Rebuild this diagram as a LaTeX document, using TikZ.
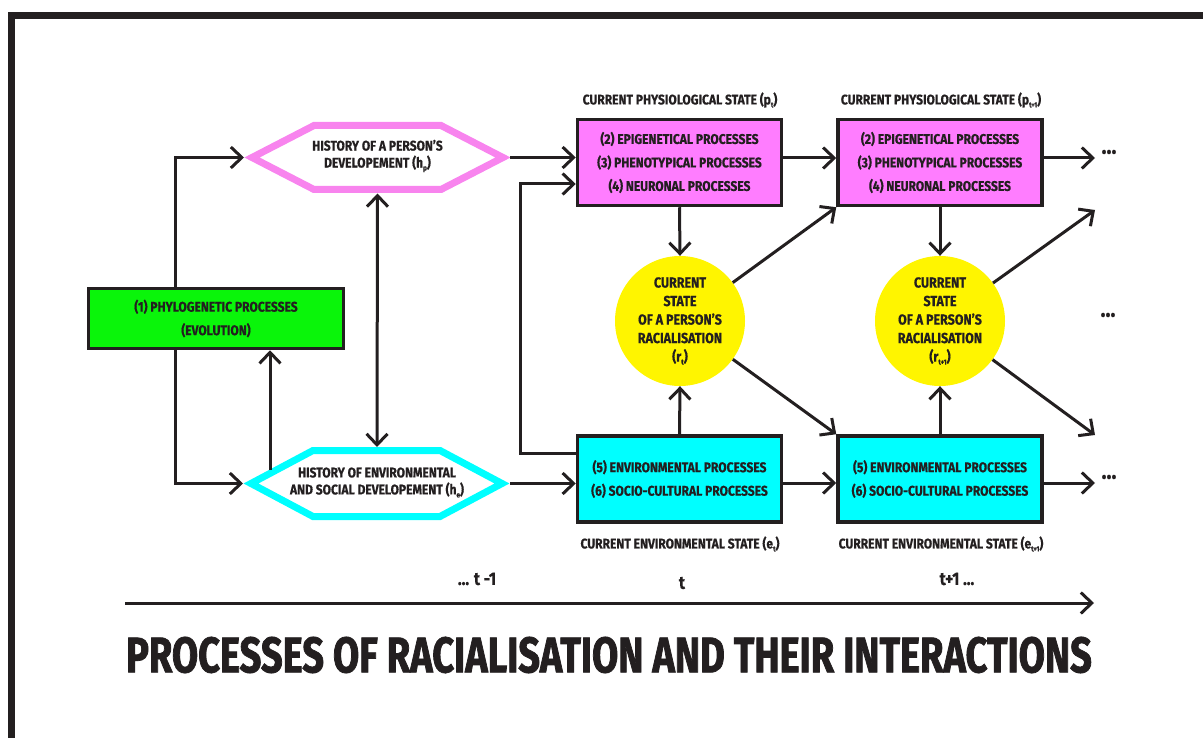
\documentclass[tikz,border=0pt]{standalone}
\usepackage{fontspec}
\setmainfont{Fira Sans}[FakeStretch=0.86, BoldFeatures={FakeBold=0.6}]
\newfontfamily\titlefont{Fira Sans}[FakeStretch=0.76, BoldFeatures={FakeBold=1.5}]
\usetikzlibrary{arrows.meta,calc}
\definecolor{ink}{RGB}{35,31,32}
\definecolor{pinkf}{RGB}{255,125,255}
\definecolor{pinkl}{RGB}{248,132,238}
\definecolor{greenf}{RGB}{10,245,10}
\definecolor{cyanf}{RGB}{0,255,255}
\definecolor{yellowf}{RGB}{255,245,0}
\newcommand{\lsub}[1]{\raisebox{-0.4ex}{\fontsize{7.5}{7.5}\selectfont #1}}
\begin{document}
\begin{tikzpicture}[x=1pt,y=-1pt,
  every node/.style={font=\fontsize{14}{23.5}\selectfont\bfseries, text=ink, align=center},
  procbox/.style={draw=ink, line width=3.5pt, minimum width=204pt, minimum height=86pt, inner sep=0pt},
  statecirc/.style={circle, fill=yellowf, minimum size=130pt, inner sep=0pt, font=\fontsize{14.5}{18.5}\selectfont\bfseries},
  hexline/.style={line width=7pt, line join=miter, miter limit=10},
  hextext/.style={font=\fontsize{14}{17}\selectfont\bfseries},
  statelabel/.style={font=\fontsize{14}{14}\selectfont\bfseries},
  timelabel/.style={font=\fontsize{18}{18}\selectfont\bfseries},
  conn/.style={draw=ink, line width=3pt, -{Straight Barb[length=11pt,width=21pt]}},
  twoway/.style={draw=ink, line width=3pt, {Straight Barb[length=11pt,width=21pt]}-{Straight Barb[length=11pt,width=21pt]}},
  dots/.style={font=\fontsize{24}{24}\selectfont\bfseries}
]
\useasboundingbox (0,0) rectangle (1203,738);
\begin{scope}
\clip (0,0) rectangle (1203,738);
\draw[ink, line width=7pt, line join=miter] (11.5,760) -- (11.5,15.5) -- (1220,15.5);
\end{scope}

% hexagons
\draw[hexline, draw=pinkl, fill=white] (252,157.5) -- (314,125.5) -- (441,125.5) -- (503,157.5) -- (441,189.5) -- (314,189.5) -- cycle;
\draw[hexline, draw=cyanf, fill=white] (251,483.5) -- (313,450.5) -- (440,450.5) -- (502,483.5) -- (440,516.5) -- (313,516.5) -- cycle;
\node[hextext] (hp) at (377.5,156) {HISTORY OF A PERSON’S\\DEVELOPEMENT (h\lsub{p})};
\node[hextext] (he) at (377,482.5) {HISTORY OF ENVIRONMENTAL\\AND SOCIAL DEVELOPEMENT (h\lsub{e})};
\coordinate (hpL) at (244,157.5);
\coordinate (hpR) at (510,157.5);
\coordinate (hpB) at (377.5,193.5);
\coordinate (heT) at (377,447);
\coordinate (heL) at (243,483.5);
\coordinate (heR) at (510,483.5);
\coordinate (heUL) at (270,470);

% green box
\node[procbox, fill=greenf, minimum width=255pt, minimum height=60pt] (g) at (216,318.5) {(1) PHYLOGENETIC PROCESSES\\(EVOLUTION)};

% process boxes
\node[procbox, fill=pinkf] (p1) at (679.5,162.5) {(2) EPIGENETICAL PROCESSES\\(3) PHENOTYPICAL PROCESSES\\(4) NEURONAL PROCESSES};
\node[procbox, fill=pinkf] (p2) at (940,162.5) {(2) EPIGENETICAL PROCESSES\\(3) PHENOTYPICAL PROCESSES\\(4) NEURONAL PROCESSES};
\node[procbox, fill=cyanf] (c1) at (679.5,479) {(5) ENVIRONMENTAL PROCESSES\\(6) SOCIO-CULTURAL PROCESSES};
\node[procbox, fill=cyanf] (c2) at (940,479) {(5) ENVIRONMENTAL PROCESSES\\(6) SOCIO-CULTURAL PROCESSES};

% state labels
\node[statelabel] (lp1) at (680,100) {CURRENT PHYSIOLOGICAL STATE (p\lsub{t})};
\node[statelabel] (lp2) at (941,100) {CURRENT PHYSIOLOGICAL STATE (p\lsub{t+1})};
\node[statelabel] (le1) at (680,544) {CURRENT ENVIRONMENTAL STATE (e\lsub{t})};
\node[statelabel] (le2) at (941,544) {CURRENT ENVIRONMENTAL STATE (e\lsub{t+1})};

% circles
\node[statecirc] (r1) at (680,321) {CURRENT\\STATE\\OF A PERSON’S\\RACIALISATION\\(r\lsub{t})};
\node[statecirc] (r2) at (940,321) {CURRENT\\STATE\\OF A PERSON’S\\RACIALISATION\\(r\lsub{t+1})};

% outgoing ends
\coordinate (oP) at (1095,158);
\coordinate (oE) at (1095,483);
\coordinate (oU) at (1095,210);
\coordinate (oD) at (1095,435);
\node[dots] (dP) at (1109,152) {...};
\node[dots] (dM) at (1108,315) {...};
\node[dots] (dE) at (1109,477) {...};

% connectors on the left
\draw[conn] (g.north -| 175,0) |- (hpL);
\draw[conn] (g.south -| 175,0) |- (heL);
\draw[conn] (heUL) -- (g.south -| heUL);
\draw[twoway] (hpB) -- (heT);
\draw[conn] (hpR) -- (p1.west |- hpR);
\draw[conn] (heR) -- (c1.west |- heR);
\coordinate (loopA) at (576,453);
\coordinate (loopB) at (520,184);
\draw[conn] (c1.west |- loopA) -| (loopB) -- (p1.west |- loopB);

% time t
\draw[conn] (p1.south) -- (r1.north);
\draw[conn] (c1.north) -- (r1.south);
\draw[conn] (r1) -- (p2.south west);
\draw[conn] (r1) -- (c2.north west);
\draw[conn] (p1.east |- 0,158) -- (p2.west |- 0,158);
\draw[conn] (c1.east |- 0,483) -- (c2.west |- 0,483);

% time t+1
\draw[conn] (p2.south) -- (r2.north);
\draw[conn] (c2.north) -- (r2.south);
\draw[conn] (r2) -- (oU);
\draw[conn] (r2) -- (oD);
\draw[conn] (p2.east |- oP) -- (oP);
\draw[conn] (c2.east |- oE) -- (oE);

% time axis
\coordinate (axA) at (125,603);
\coordinate (axB) at (1094,603);
\draw[conn] (axA) -- (axB);
\node[timelabel] (tm1) at (477,579) {... t -1};
\node[timelabel] (t0) at (682,583) {t};
\node[timelabel] (tp1) at (957,579) {t+1 ...};

% title
\node[font=\titlefont\fontsize{50}{50}\selectfont\bfseries] (title) at (609,655) {PROCESSES OF RACIALISATION AND THEIR INTERACTIONS};
\end{tikzpicture}
\end{document}
